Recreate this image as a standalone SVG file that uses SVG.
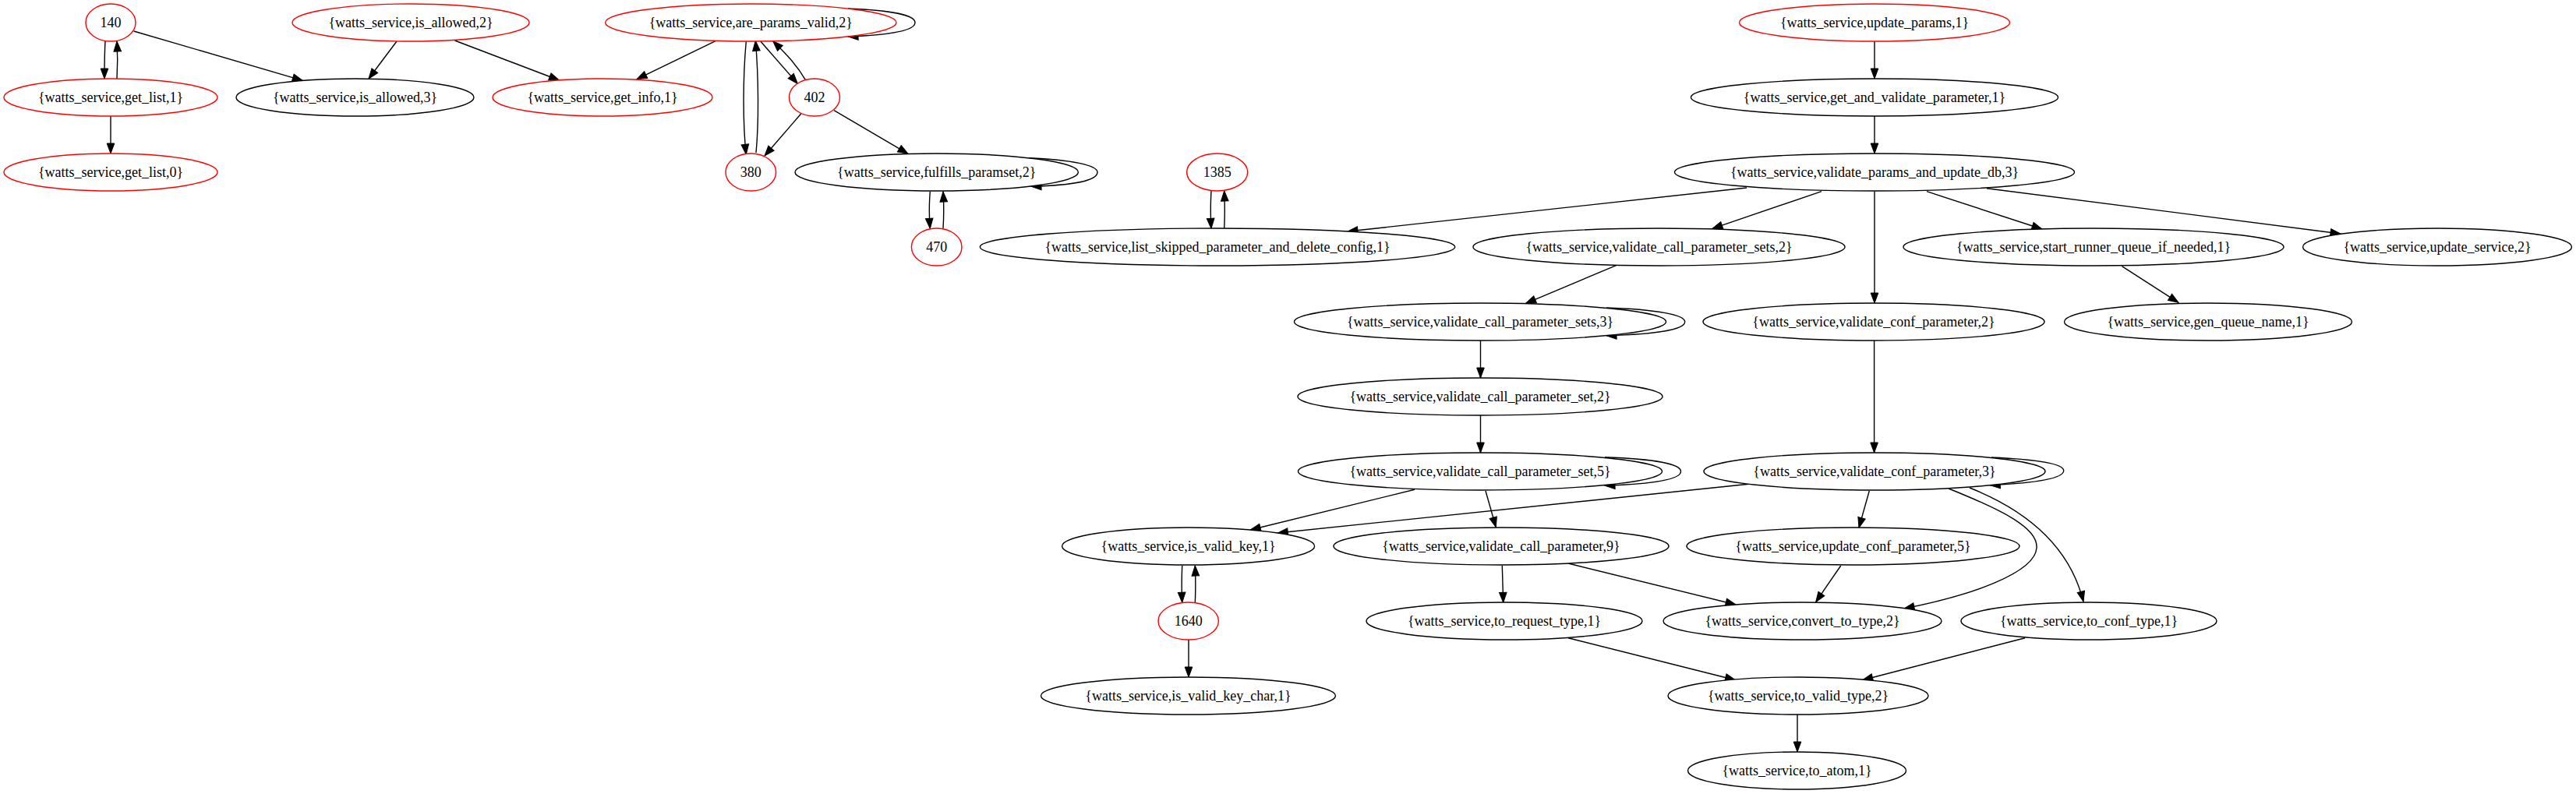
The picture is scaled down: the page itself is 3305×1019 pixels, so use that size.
<svg xmlns="http://www.w3.org/2000/svg" width="3305" height="1019" viewBox="0 0 3305 1019">
<style>
.n ellipse{fill:#ffffff;stroke:#000000;stroke-width:1.4}
.n.r ellipse{stroke:#ff0000}
.n text{font-family:"Liberation Serif","Times New Roman",serif;font-size:18px;fill:#000000;text-anchor:middle}
#edges path{fill:none;stroke:#000000;stroke-width:1.4;marker-end:url(#ah)}
</style>
<defs>
<marker id="ah" markerWidth="16" markerHeight="12" refX="14" refY="6" orient="auto" markerUnits="userSpaceOnUse" overflow="visible">
<path d="M1,1.2 L14,6 L1,10.8 Z" fill="#000000" stroke="#000000" stroke-width="1"/>
</marker>
</defs>
<rect width="3305" height="1019" fill="#ffffff"/>
<g id="edges">
<path d="M135,53 C134,70 134,85 134,101"/>
<path d="M150,101 C151,85 151,70 150,53"/>
<path d="M142,149 L142,197"/>
<path d="M171.7,40 L388.3,103.3"/>
<path d="M509,53 L473,101"/>
<path d="M583.5,52 L717.5,103"/>
<path d="M918,52.7 L817,101.7"/>
<path d="M1088,11 C1140,13 1174,19 1174,29 C1174,40 1140,45 1088,47"/>
<path d="M957.3,53.3 C953,100 953,160 957.3,198.3"/>
<path d="M970,196 C973.5,160 973.5,100 969.3,52.3"/>
<path d="M976,53.3 L1023.3,107.3"/>
<path d="M1033.3,102.3 C1020,80 1005,66 991.7,52.7"/>
<path d="M1027.7,146 L981,200"/>
<path d="M1070,141.7 L1165,197.3"/>
<path d="M1320,202.7 C1375,205 1408,212 1408,221 C1408,232 1375,238 1323,239.3"/>
<path d="M1193.3,246 C1192,262 1192,278 1193.3,293.3"/>
<path d="M1210,293.3 C1211,278 1211,262 1210,246"/>
<path d="M1554,245 C1553,262 1553,278 1554,293.3"/>
<path d="M1570.7,293.3 C1571.5,278 1571.5,262 1570.7,245"/>
<path d="M2241,241 L1729,297"/>
<path d="M2337,245.7 L2197,293.3"/>
<path d="M2405,245.7 L2405,389"/>
<path d="M2472,245.7 L2620,294"/>
<path d="M2549,241.7 L3003,300"/>
<path d="M2405,53 L2405,101"/>
<path d="M2405,149 L2405,197"/>
<path d="M2722.4,341.7 L2795,388.3"/>
<path d="M2073.5,340.7 L1957.6,389.3"/>
<path d="M2061,395 C2125,397 2161.7,404 2161.7,413 C2161.7,423 2125,429 2061,430.7"/>
<path d="M1899.5,437 L1899.5,485"/>
<path d="M1899.5,533 L1899.5,581"/>
<path d="M2059,586.7 C2125,589 2156.5,596 2156.5,605 C2156.5,615 2125,621 2059,623.3"/>
<path d="M1815,628.3 L1604.3,680"/>
<path d="M1906,630 L1919.3,676.7"/>
<path d="M2246,621 L1639.3,684"/>
<path d="M2404.6,437 L2404.6,581"/>
<path d="M2555,587 C2620,590 2647.7,596 2647.7,604 C2647.7,614 2610,620 2553.3,622.7"/>
<path d="M2398.3,630 L2385,677.3"/>
<path d="M2500,627 C2570,655 2615,678 2613,703 C2611,735 2530,764 2443,781"/>
<path d="M2527,626 C2600,655 2655,700 2673,772"/>
<path d="M2361.7,726 L2329.6,772.7"/>
<path d="M1927.3,726 L1928.7,773.3"/>
<path d="M2012,723 L2227,776"/>
<path d="M1516.7,726 C1516,742 1516,758 1516.7,773.3"/>
<path d="M1533.3,773.3 C1534,758 1534,742 1533.3,726"/>
<path d="M1525,821 L1525,869"/>
<path d="M2012,818.7 L2226.5,872.7"/>
<path d="M2598,818.7 L2389.8,872.7"/>
<path d="M2306,917 L2306,965"/>
</g>
<g id="n140" class="n r"><ellipse cx="142" cy="29" rx="32" ry="24"/><text x="142" y="35">140</text></g>
<g id="get_list_1" class="n r"><ellipse cx="142" cy="125" rx="137" ry="24"/><text x="142" y="131">{watts_service,get_list,1}</text></g>
<g id="get_list_0" class="n r"><ellipse cx="142" cy="221" rx="137" ry="24"/><text x="142" y="227">{watts_service,get_list,0}</text></g>
<g id="is_allowed_2" class="n r"><ellipse cx="527" cy="29" rx="152" ry="24"/><text x="527" y="35">{watts_service,is_allowed,2}</text></g>
<g id="is_allowed_3" class="n"><ellipse cx="455.5" cy="125" rx="152.5" ry="24"/><text x="455.5" y="131">{watts_service,is_allowed,3}</text></g>
<g id="get_info_1" class="n r"><ellipse cx="773" cy="125" rx="141" ry="24"/><text x="773" y="131">{watts_service,get_info,1}</text></g>
<g id="are_params_valid_2" class="n r"><ellipse cx="963.3" cy="29" rx="186.7" ry="24"/><text x="963.3" y="35">{watts_service,are_params_valid,2}</text></g>
<g id="n402" class="n r"><ellipse cx="1045" cy="125" rx="32.5" ry="24"/><text x="1045" y="131">402</text></g>
<g id="n380" class="n r"><ellipse cx="963.3" cy="221" rx="32.3" ry="24"/><text x="963.3" y="227">380</text></g>
<g id="fulfills_paramset_2" class="n"><ellipse cx="1201.7" cy="221" rx="181.7" ry="24"/><text x="1201.7" y="227">{watts_service,fulfills_paramset,2}</text></g>
<g id="n470" class="n r"><ellipse cx="1201.7" cy="317" rx="32.3" ry="24"/><text x="1201.7" y="323">470</text></g>
<g id="n1385" class="n r"><ellipse cx="1561.7" cy="221" rx="39" ry="24"/><text x="1561.7" y="227">1385</text></g>
<g id="list_skipped" class="n"><ellipse cx="1562" cy="317" rx="304.7" ry="24"/><text x="1562" y="323">{watts_service,list_skipped_parameter_and_delete_config,1}</text></g>
<g id="update_params_1" class="n r"><ellipse cx="2405" cy="29" rx="173.5" ry="24"/><text x="2405" y="35">{watts_service,update_params,1}</text></g>
<g id="get_and_validate_parameter_1" class="n"><ellipse cx="2405" cy="125" rx="235.5" ry="24"/><text x="2405" y="131">{watts_service,get_and_validate_parameter,1}</text></g>
<g id="validate_params_and_update_db_3" class="n"><ellipse cx="2405" cy="221" rx="256.5" ry="24"/><text x="2405" y="227">{watts_service,validate_params_and_update_db,3}</text></g>
<g id="validate_call_parameter_sets_2" class="n"><ellipse cx="2128.5" cy="317" rx="238.5" ry="24"/><text x="2128.5" y="323">{watts_service,validate_call_parameter_sets,2}</text></g>
<g id="start_runner_queue_if_needed_1" class="n"><ellipse cx="2686" cy="317" rx="244" ry="24"/><text x="2686" y="323">{watts_service,start_runner_queue_if_needed,1}</text></g>
<g id="update_service_2" class="n"><ellipse cx="3127" cy="317" rx="172.5" ry="24"/><text x="3127" y="323">{watts_service,update_service,2}</text></g>
<g id="validate_call_parameter_sets_3" class="n"><ellipse cx="1899" cy="413" rx="238.5" ry="24"/><text x="1899" y="419">{watts_service,validate_call_parameter_sets,3}</text></g>
<g id="validate_conf_parameter_2" class="n"><ellipse cx="2404" cy="413" rx="219" ry="24"/><text x="2404" y="419">{watts_service,validate_conf_parameter,2}</text></g>
<g id="gen_queue_name_1" class="n"><ellipse cx="2833" cy="413" rx="184.5" ry="24"/><text x="2833" y="419">{watts_service,gen_queue_name,1}</text></g>
<g id="validate_call_parameter_set_2" class="n"><ellipse cx="1899" cy="509" rx="234" ry="24"/><text x="1899" y="515">{watts_service,validate_call_parameter_set,2}</text></g>
<g id="validate_call_parameter_set_5" class="n"><ellipse cx="1899" cy="605" rx="233.5" ry="24"/><text x="1899" y="611">{watts_service,validate_call_parameter_set,5}</text></g>
<g id="validate_conf_parameter_3" class="n"><ellipse cx="2405" cy="605" rx="219" ry="24"/><text x="2405" y="611">{watts_service,validate_conf_parameter,3}</text></g>
<g id="is_valid_key_1" class="n"><ellipse cx="1524.6" cy="701" rx="162" ry="24"/><text x="1524.6" y="707">{watts_service,is_valid_key,1}</text></g>
<g id="validate_call_parameter_9" class="n"><ellipse cx="1926" cy="701" rx="215" ry="24"/><text x="1926" y="707">{watts_service,validate_call_parameter,9}</text></g>
<g id="update_conf_parameter_5" class="n"><ellipse cx="2377.5" cy="701" rx="213.5" ry="24"/><text x="2377.5" y="707">{watts_service,update_conf_parameter,5}</text></g>
<g id="n1640" class="n r"><ellipse cx="1524.7" cy="797" rx="38.7" ry="24"/><text x="1524.7" y="803">1640</text></g>
<g id="to_request_type_1" class="n"><ellipse cx="1930" cy="797" rx="177" ry="24"/><text x="1930" y="803">{watts_service,to_request_type,1}</text></g>
<g id="convert_to_type_2" class="n"><ellipse cx="2312.5" cy="797" rx="178.5" ry="24"/><text x="2312.5" y="803">{watts_service,convert_to_type,2}</text></g>
<g id="to_conf_type_1" class="n"><ellipse cx="2680" cy="797" rx="164" ry="24"/><text x="2680" y="803">{watts_service,to_conf_type,1}</text></g>
<g id="is_valid_key_char_1" class="n"><ellipse cx="1524.5" cy="893" rx="189" ry="24"/><text x="1524.5" y="899">{watts_service,is_valid_key_char,1}</text></g>
<g id="to_valid_type_2" class="n"><ellipse cx="2307" cy="893" rx="167" ry="24"/><text x="2307" y="899">{watts_service,to_valid_type,2}</text></g>
<g id="to_atom_1" class="n"><ellipse cx="2305.5" cy="989" rx="140" ry="24"/><text x="2305.5" y="995">{watts_service,to_atom,1}</text></g>
</svg>
